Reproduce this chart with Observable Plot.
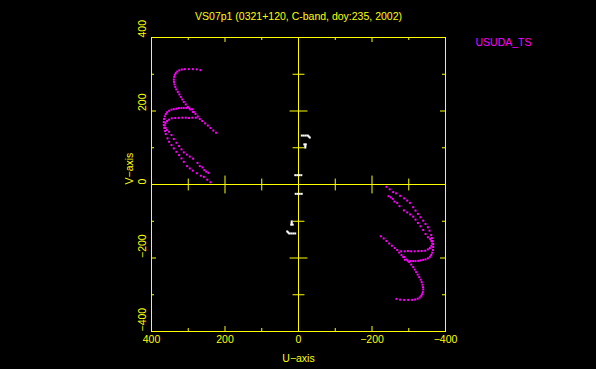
<!DOCTYPE html>
<html><head><meta charset="utf-8">
<script src="https://cdn.jsdelivr.net/npm/d3@7"></script>
<script src="https://cdn.jsdelivr.net/npm/@observablehq/plot@0.6"></script>
<style>html,body{margin:0;padding:0;background:#000;overflow:hidden}</style>
</head><body><div id="chart"></div>
<script>
// Chart texts
const titleText = "VS07p1 (0321+120, C-band, doy:235, 2002)";
const stationName = "USUDA_TS";
const xLabel = "U\u2212axis";
const yLabel = "V\u2212axis";

// Tick values and labels
const majorTicks = [-400, -200, 0, 200, 400];
const minorTicks = [-300, -100, 100, 300];
const tickLabels = ["\u2212400", "\u2212200", "0", "200", "400"];

// UV track of USUDA_TS (upper-left half; conjugate points are added below)
const arcA_u = [266.7,276.7,287.6,298.5,309.4,317.5,324.3,329.8,333.9,336.6,338.2,339.3,338.8,337.4,335.2,332.5,328.4,324.3,320.3,316.2,312.1,306.7,301.2,294.4,287.6,280.3,274.0,268.6,261.8,254.1,246.8,239.4,231.8,224.2];
const arcA_v = [311.2,313.4,314.0,314.0,314.0,312.9,310.7,307.4,303.0,298.4,292.9,285.6,279.3,272.5,265.6,258.8,252.0,245.2,238.3,231.5,224.7,217.9,211.0,204.2,197.4,192.0,185.1,178.3,172.8,166.5,160.5,153.7,146.9,140.9];

const arcB_u = [284.9,289.5,297.1,304.8,312.1,318.4,325.7,332.0,339.3,345.6,352.1,357.5,361.1,363.8,365.7,366.5,366.5,365.2,363.0,361.1,356.5,352.1,345.6,339.3,332.0,324.9,318.4,312.1,303.1,295.8,287.6,276.7,265.8,257.6,248.2,239.4];
const arcB_v = [197.4,204.8,207.5,208.3,208.3,208.3,207.8,206.4,205.0,203.7,200.7,196.6,191.9,185.6,178.3,170.1,161.9,153.7,145.5,137.3,125.6,116.3,107.3,98.3,89.0,80.0,71.0,61.7,50.0,43.7,37.7,30.8,24.0,20.7,13.1,6.3];

const arcC_u = [279.4,289.0,297.7,306.7,316.2,325.7,335.2,344.8,352.1,357.5,361.9,363.8,361.6,358.4,352.1,345.6,339.3,332.0,324.9,318.4,312.1,303.9,295.8,286.8,274.8,268.6,261.2,256.3,250.9,245.0];
const arcC_v = [181.8,181.8,181.0,181.8,181.8,181.3,181.0,180.2,176.4,172.8,167.3,160.5,153.7,148.2,143.6,134.6,123.7,113.6,104.6,95.6,87.4,81.4,75.9,70.4,58.9,50.0,46.4,39.0,34.9,31.7];

// Short-baseline points (white)
const short_u = [-9.0,-14.4,-19.9,-25.3,-28.0,-30.7,-15.8,-19.9,-18.5,-18.5,8.7,3.3,-2.2,-7.6];
const short_v = [133.2,133.2,133.2,133.2,130.5,127.8,109.2,109.2,104.6,100.5,25.4,25.4,25.4,25.4];

function withConjugates(us, vs) {
  const out = [];
  us.forEach((u, i) => { out.push({u, v: vs[i]}); out.push({u: -u, v: -vs[i]}); });
  return out;
}
const usudaPts = [
  ...withConjugates(arcA_u, arcA_v),
  ...withConjugates(arcB_u, arcB_v),
  ...withConjugates(arcC_u, arcC_v)
];
const shortPts = withConjugates(short_u, short_v);

const YEL = "#ffff00", MAG = "#ff00ff";
const FRAME = 294;
const labelIdx = majorTicks.map((t, i) => ({t, label: tickLabels[i]}));
const majorInner = majorTicks.filter(d => Math.abs(d) !== 400 && d !== 0);

const chart = Plot.plot({
  width: 596, height: 369,
  marginLeft: 151, marginRight: 151, marginTop: 37, marginBottom: 38,
  x: {domain: [400, -400], axis: null},
  y: {domain: [-400, 400], axis: null},
  style: {background: "#000", fontFamily: "Liberation Sans, Arial, sans-serif", fontSize: "10.5px", overflow: "visible"},
  marks: [
    Plot.ruleX([0], {stroke: YEL}),
    Plot.ruleY([0], {stroke: YEL}),
    // edge ticks (inward)
    Plot.ruleX(majorTicks, {x: d => d, insetTop: FRAME - 5, stroke: YEL}),
    Plot.ruleX(minorTicks, {x: d => d, insetTop: FRAME - 3, stroke: YEL}),
    Plot.ruleX(majorTicks, {x: d => d, insetBottom: FRAME - 5, stroke: YEL}),
    Plot.ruleX(minorTicks, {x: d => d, insetBottom: FRAME - 3, stroke: YEL}),
    Plot.ruleY(majorTicks, {y: d => d, insetRight: FRAME - 5, stroke: YEL}),
    Plot.ruleY(minorTicks, {y: d => d, insetRight: FRAME - 3, stroke: YEL}),
    Plot.ruleY(majorTicks, {y: d => d, insetLeft: FRAME - 5, stroke: YEL}),
    Plot.ruleY(minorTicks, {y: d => d, insetLeft: FRAME - 3, stroke: YEL}),
    // ticks across the central axes (plus symbols centred on the axis lines)
    Plot.dot(majorInner, {x: d => d, y: 0, symbol: "plus", r: 5.8, stroke: YEL, strokeWidth: 1}),
    Plot.dot(minorTicks, {x: d => d, y: 0, symbol: "plus", r: 3.9, stroke: YEL, strokeWidth: 1}),
    Plot.dot(majorInner, {x: 0, y: d => d, symbol: "plus", r: 5.8, stroke: YEL, strokeWidth: 1}),
    Plot.dot(minorTicks, {x: 0, y: d => d, symbol: "plus", r: 3.9, stroke: YEL, strokeWidth: 1}),
    Plot.frame({stroke: YEL}),
    // data
    Plot.dot(shortPts, {x: "u", y: "v", symbol: "square", r: 1.13, fill: "#ffffff", stroke: "none"}),
    Plot.dot(usudaPts, {x: "u", y: "v", symbol: "square", r: 1.13, fill: MAG, stroke: "none"}),
    // tick labels
    Plot.text(labelIdx, {x: "t", text: "label", frameAnchor: "bottom", dy: 8.5, lineAnchor: "middle", fill: YEL}),
    Plot.text(labelIdx, {y: "t", text: "label", frameAnchor: "left", dx: -9, rotate: -90, lineAnchor: "middle", fill: YEL}),
    // axis titles, title, legend
    Plot.text([xLabel], {text: d => d, frameAnchor: "bottom", dy: 27.5, lineAnchor: "middle", fill: YEL}),
    Plot.text([yLabel], {text: d => d, frameAnchor: "left", dx: -22, rotate: -90, lineAnchor: "middle", fill: YEL}),
    Plot.text([titleText], {text: d => d, frameAnchor: "top", dy: -21, lineAnchor: "middle", fill: YEL}),
    Plot.text([stationName], {text: d => d, frameAnchor: "top-right", dx: 30, dy: 5, textAnchor: "start", lineAnchor: "middle", fill: MAG})
  ]
});
document.getElementById("chart").appendChild(chart);
</script>
</body></html>
